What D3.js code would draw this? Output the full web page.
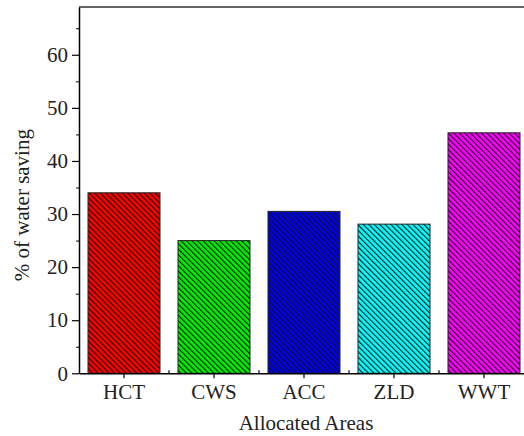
<!DOCTYPE html>
<html>
<head>
<meta charset="utf-8">
<script src="https://cdn.jsdelivr.net/npm/d3@7"></script>
<style>
  body { margin: 0; background: #fff; }
  svg { display: block; font-family: "Liberation Serif", "Times New Roman", serif; }
</style>
</head>
<body>
<div id="chart"></div>
<script>
// data
const areas = ["HCT", "CWS", "ACC", "ZLD", "WWT"];
const saving = [34.0, 25.0, 30.5, 28.1, 45.3];
const barColors = ["#ff0000", "#00ee00", "#0000ee", "#00ffff", "#ff00ff"];
const yTicks = [0, 10, 20, 30, 40, 50, 60];
const yMinor = [5, 15, 25, 35, 45, 55, 65];

const W = 524, H = 436;
const margin = { top: 7, left: 79 };
const plotW = 450;          // plot runs a bit past the right edge
const zeroY = 373.3;

const svg = d3.select("#chart").append("svg")
    .attr("width", W)
    .attr("height", H);

// hatch patterns, one per colour
const hs = 3.9;
const defs = svg.append("defs");
barColors.forEach((c, i) => {
    const p = defs.append("pattern")
        .attr("id", "hatch" + i)
        .attr("patternUnits", "userSpaceOnUse")
        .attr("width", hs)
        .attr("height", hs)
        .attr("patternTransform", "rotate(-45)");
    p.append("rect").attr("width", hs).attr("height", hs).attr("fill", c);
    p.append("line")
        .attr("x1", 0.6).attr("y1", 0).attr("x2", 0.6).attr("y2", hs)
        .attr("stroke", "#111")
        .attr("stroke-width", 1.1);
});

const x = d3.scaleBand()
    .domain(areas)
    .range([margin.left, margin.left + plotW])
    .paddingInner(0.2)
    .paddingOuter(0.1);

const y = d3.scaleLinear()
    .domain([0, 69])
    .range([zeroY, margin.top]);

// bars
svg.selectAll(".bar")
    .data(areas)
    .enter()
    .append("rect")
    .attr("class", "bar")
    .attr("x", d => x(d))
    .attr("width", x.bandwidth())
    .attr("y", (d, i) => y(saving[i]))
    .attr("height", (d, i) => y(0) - y(saving[i]))
    .attr("fill", (d, i) => `url(#hatch${i})`)
    .attr("stroke", "#222")
    .attr("stroke-width", 1);

// top frame line
svg.append("line")
    .attr("x1", margin.left).attr("x2", W)
    .attr("y1", margin.top).attr("y2", margin.top)
    .attr("stroke", "#666")
    .attr("stroke-width", 1.8);

// y axis
const yAxis = svg.append("g")
    .attr("transform", `translate(${margin.left},0)`)
    .call(d3.axisLeft(y).tickValues(yTicks).tickSize(7).tickPadding(4).tickSizeOuter(0));
yAxis.select(".domain").attr("stroke-width", 1.5);
yAxis.selectAll("line").attr("stroke-width", 1.2);
yAxis.selectAll("text")
    .style("font-family", "Liberation Serif, serif")
    .style("font-size", "21px")
    .attr("fill", "#222");

svg.append("g")
    .attr("transform", `translate(${margin.left},0)`)
    .call(d3.axisLeft(y).tickValues(yMinor).tickSize(3).tickFormat(""))
    .call(g => g.select(".domain").remove());

// x axis
const xAxis = svg.append("g")
    .attr("transform", `translate(0,${zeroY})`)
    .call(d3.axisBottom(x).tickSize(5).tickPadding(6).tickSizeOuter(0));
xAxis.select(".domain").attr("stroke-width", 1.5);
xAxis.selectAll("line").attr("stroke-width", 1.2);
xAxis.selectAll("text")
    .style("font-family", "Liberation Serif, serif")
    .style("font-size", "21px")
    .attr("fill", "#222");

// minor x ticks at band edges
const step = x.step();
svg.append("g")
    .selectAll("line")
    .data(areas.slice(1))
    .enter()
    .append("line")
    .attr("x1", d => x(d) - step * x.paddingInner() / 2)
    .attr("x2", d => x(d) - step * x.paddingInner() / 2)
    .attr("y1", zeroY)
    .attr("y2", zeroY - 3)
    .attr("stroke", "#000")
    .attr("stroke-width", 1.2);

// axis titles
svg.append("text")
    .attr("x", margin.left + plotW / 2 + 2)
    .attr("y", 430)
    .attr("text-anchor", "middle")
    .style("font-size", "21px")
    .attr("fill", "#222")
    .text("Allocated Areas");

svg.append("text")
    .attr("transform", `translate(29,${(zeroY + margin.top) / 2 + 15}) rotate(-90)`)
    .attr("text-anchor", "middle")
    .style("font-size", "21px")
    .attr("fill", "#222")
    .text("% of water saving");
</script>
</body>
</html>
